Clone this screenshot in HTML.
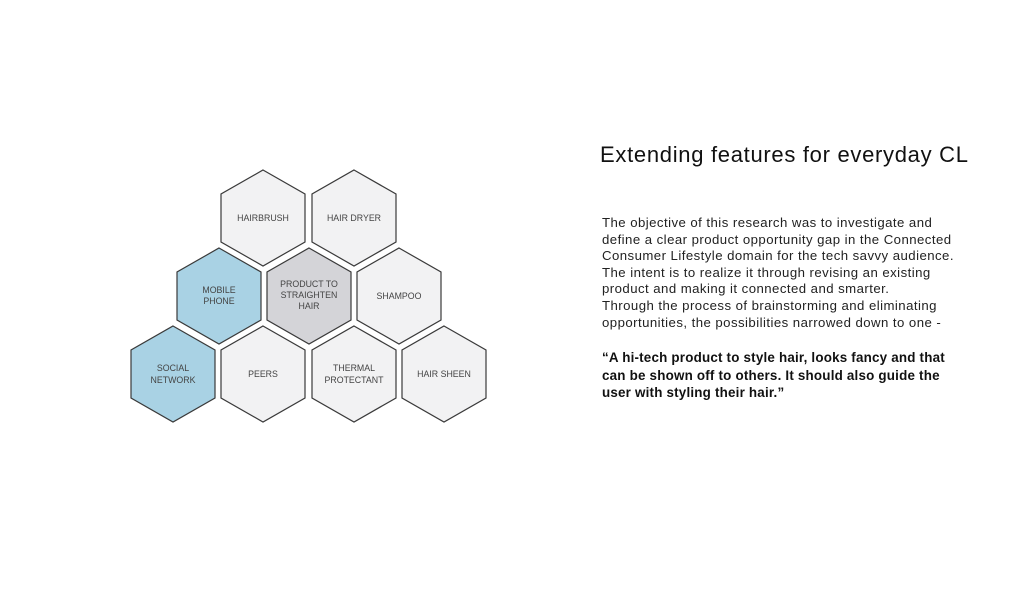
<!DOCTYPE html>
<html><head><meta charset="utf-8"><style>
body{margin:0;width:1022px;height:597px;background:#fff;position:relative;overflow:hidden;font-family:"Liberation Sans",sans-serif;}
svg{position:absolute;left:0;top:0}
.t{position:absolute;left:600px;top:142px;font-size:22px;color:#111;white-space:nowrap;letter-spacing:0.7px}
.b{position:absolute;left:602px;top:215px;font-size:13.2px;line-height:16.6px;color:#222;white-space:nowrap;letter-spacing:0.45px}
.q{position:absolute;left:602px;top:349px;font-size:13.4px;line-height:17.5px;color:#111;font-weight:bold;white-space:nowrap;letter-spacing:0.2px}
</style></head><body>
<svg width="1022" height="597" font-family="Liberation Sans, sans-serif" font-size="8.8" fill="#444" text-anchor="middle">
<g stroke="#3a3a3a" stroke-width="1.2">
<polygon fill="#f2f2f3" points="263,170 305,194 305,242 263,266 221,242 221,194"/>
<polygon fill="#f2f2f3" points="354,170 396,194 396,242 354,266 312,242 312,194"/>
<polygon fill="#a9d2e4" points="219,248 261,272 261,320 219,344 177,320 177,272"/>
<polygon fill="#d4d4d8" points="309,248 351,272 351,320 309,344 267,320 267,272"/>
<polygon fill="#f2f2f3" points="399,248 441,272 441,320 399,344 357,320 357,272"/>
<polygon fill="#a9d2e4" points="173,326 215,350 215,398 173,422 131,398 131,350"/>
<polygon fill="#f2f2f3" points="263,326 305,350 305,398 263,422 221,398 221,350"/>
<polygon fill="#f2f2f3" points="354,326 396,350 396,398 354,422 312,398 312,350"/>
<polygon fill="#f2f2f3" points="444,326 486,350 486,398 444,422 402,398 402,350"/>
</g>
<text x="263" y="221">HAIRBRUSH</text>
<text x="354" y="221">HAIR DRYER</text>
<text x="219" y="293">MOBILE</text><text x="219" y="304">PHONE</text>
<text x="309" y="287">PRODUCT TO</text><text x="309" y="298">STRAIGHTEN</text><text x="309" y="309">HAIR</text>
<text x="399" y="299">SHAMPOO</text>
<text x="173" y="371">SOCIAL</text><text x="173" y="383">NETWORK</text>
<text x="263" y="377">PEERS</text>
<text x="354" y="371">THERMAL</text><text x="354" y="383">PROTECTANT</text>
<text x="444" y="377">HAIR SHEEN</text>
</svg>
<div class="t">Extending features for everyday CL</div>
<div class="b">The objective of this research was to investigate and<br>define a clear product opportunity gap in the Connected<br>Consumer Lifestyle domain for the tech savvy audience.<br>The intent is to realize it through revising an existing<br>product and making it connected and smarter.<br>Through the process of brainstorming and eliminating<br>opportunities, the possibilities narrowed down to one -</div>
<div class="q">“A hi-tech product to style hair, looks fancy and that<br>can be shown off to others. It should also guide the<br>user with styling their hair.”</div>
</body></html>
